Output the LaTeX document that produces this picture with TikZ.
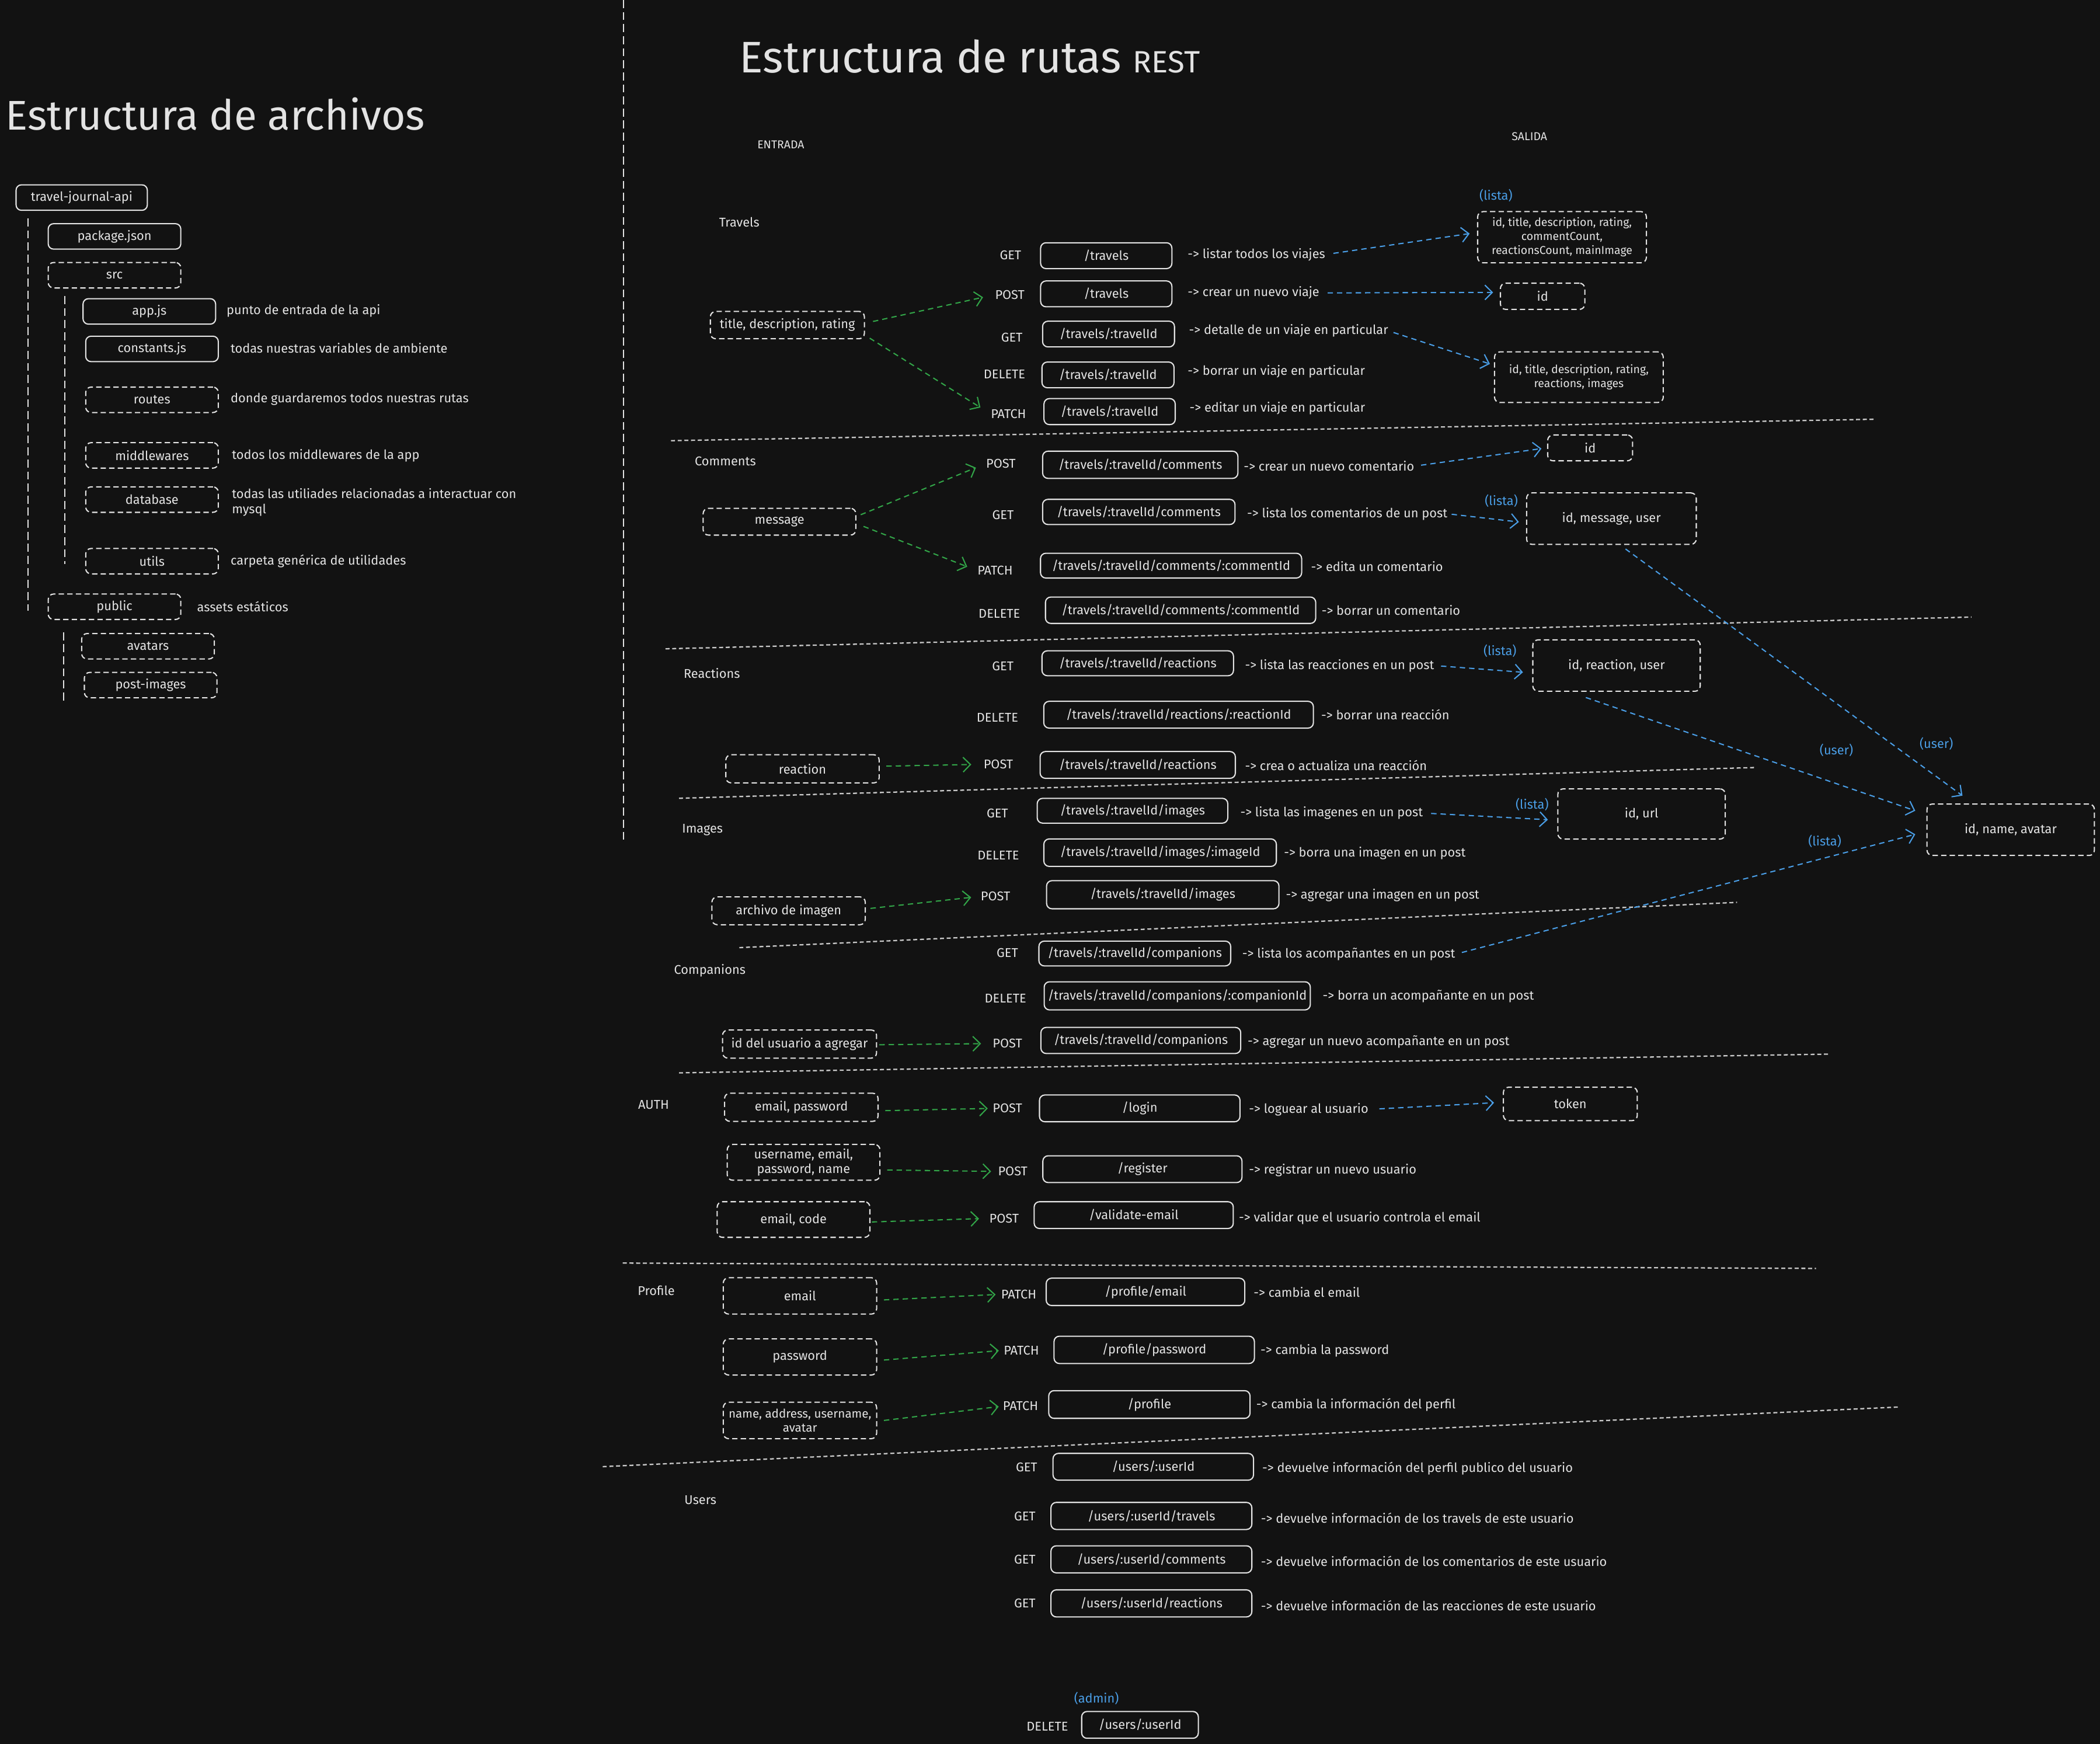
\documentclass[tikz,border=0pt]{standalone}
\usepackage{fontspec}
\setmainfont{Fira Sans}
\usetikzlibrary{arrows.meta,calc}
\definecolor{bgc}{HTML}{121212}
\definecolor{fgc}{HTML}{E3E3E3}
\definecolor{grc}{HTML}{32A548}
\definecolor{blc}{HTML}{4A9EE6}
\definecolor{sepc}{HTML}{C8C8C8}
\newcommand\fsm{\fontsize{9.5}{11}\selectfont}
\newcommand\fxs{\fontsize{8.5}{10.5}\selectfont}
\newcommand\fmid{\fontsize{9}{10.5}\selectfont}
\begin{document}
\begin{tikzpicture}[x=1pt,y=-1pt,
  txt/.style={text=fgc,font=\fsm,inner sep=0pt},
  lbl/.style={txt,anchor=west},
  mth/.style={txt},
  sec/.style={txt},
  bnote/.style={text=blc,font=\fsm,inner sep=0pt},
  ttl/.style={text=fgc,inner sep=0pt},
  sz/.style 2 args={minimum width=#1pt,minimum height=#2pt},
  sbox/.style={draw=fgc,line width=0.9pt,rounded corners=4pt,text=fgc,font=\fsm,inner sep=0pt,align=center},
  dbox/.style={sbox,dash pattern=on 4pt off 2.4pt},
  garr/.style={draw=grc,line width=0.9pt,dash pattern=on 4pt off 3pt,-{Straight Barb[length=5.5pt,width=11pt]}},
  barr/.style={draw=blc,line width=0.9pt,dash pattern=on 4pt off 3pt,-{Straight Barb[length=5.5pt,width=11pt]}},
  sepl/.style={draw=sepc,line width=1pt,dash pattern=on 3pt off 2pt},
  tree/.style={draw=fgc,line width=0.8pt,dash pattern=on 6pt off 3pt}
]
\fill[bgc] (0,0) rectangle (1568,1302);
\useasboundingbox (0,0) rectangle (1568,1302);

% ---------------- Left: file structure ----------------
\node[ttl,anchor=west,font=\fontsize{31}{33}\selectfont] (t1) at (4,85) {Estructura de archivos};
\draw[tree] (465.5,0) -- (465.5,628);

\node[sbox,sz={98}{19}] (tja) at (61,147.5) {travel-journal-api};
\node[sbox,sz={99}{19}] (pkg) at (85.5,176.5) {package.json};
\node[dbox,sz={99}{19}] (src) at (85.5,205.5) {src};
\node[sbox,sz={99}{19}] (app) at (111.5,232.5) {app.js};
\node[sbox,sz={99}{19}] (cst) at (113.5,260.5) {constants.js};
\node[dbox,sz={99}{19}] (rts) at (113.5,298.5) {routes};
\node[dbox,sz={99}{19}] (mdw) at (113.5,340) {middlewares};
\node[dbox,sz={99}{19}] (dbs) at (113.5,373) {database};
\node[dbox,sz={99}{19}] (utl) at (113.5,419) {utils};
\node[dbox,sz={99}{19}] (pub) at (85.5,453) {public};
\node[dbox,sz={99}{19}] (ava) at (110.5,482.5) {avatars};
\node[dbox,sz={99}{19}] (pim) at (112.5,511.5) {post-images};

\draw[tree] (20.8,163) -- (20.8,456);
\draw[tree] (48.3,221) -- (48.3,421);
\draw[tree] (47.4,472) -- (47.4,523);

\node[lbl] (la) at (169,232) {punto de entrada de la api};
\node[lbl] (lb) at (172,260) {todas nuestras variables de ambiente};
\node[lbl] (lc) at (172,298) {donde guardaremos todos nuestras rutas};
\node[lbl] (ld) at (173,340) {todos los middlewares de la app};
\node[lbl,align=left] (le) at (173,375) {todas las utiliades relacionadas a interactuar con\\mysql};
\node[lbl] (lf) at (172,419) {carpeta genérica de utilidades};
\node[lbl] (lg) at (147,453) {assets estáticos};

% ---------------- Right: REST routes ----------------
\node[ttl,anchor=west,font=\fontsize{33}{35}\selectfont] (t2) at (552,42) {Estructura de rutas {\fontsize{23}{25}\selectfont REST}};
\node[sec,font=\fxs] (ent) at (583,108) {ENTRADA};
\node[sec,font=\fxs] (sal) at (1142,102) {SALIDA};

\node[sec] (s1) at (552,166) {Travels};
\node[sec] (s2) at (541.6,344.3) {Comments};
\node[sec] (s3) at (531.5,502.7) {Reactions};
\node[sec] (s4) at (524.5,619.5) {Images};
\node[sec] (s5) at (530,724.6) {Companions};
\node[sec] (s6) at (488,825) {AUTH};
\node[sec] (s7) at (490,963.4) {Profile};
\node[sec] (s8) at (523,1120) {Users};

% separators
\draw[sepl] (501,329) -- (1400,313);
\draw[sepl] (496.9,484.4) -- (1472,460.7);
\draw[sepl] (507,596) -- (1311,573);
\draw[sepl] (552,707.5) -- (1297,673.7);
\draw[sepl] (507,801) -- (1366,787);
\draw[sepl] (465,943) -- (1356,947);
\draw[sepl] (450,1095) -- (1417,1050.5);

% methods
\node[mth] (m1) at (754.5,190.4) {GET};
\node[mth] (m2) at (754,220) {POST};
\node[mth] (m3) at (755.5,252) {GET};
\node[mth] (m4) at (750,279.3) {DELETE};
\node[mth] (m5) at (753,309) {PATCH};
\node[mth] (m6) at (747.3,346.1) {POST};
\node[mth] (m7) at (748.9,384.3) {GET};
\node[mth] (m8) at (743,426) {PATCH};
\node[mth] (m9) at (746.2,458) {DELETE};
\node[mth] (m10) at (748.8,497.4) {GET};
\node[mth] (m11) at (744.7,535.8) {DELETE};
\node[mth] (m12) at (745.4,570.6) {POST};
\node[mth] (m13) at (744.7,607.3) {GET};
\node[mth] (m14) at (745.4,638.4) {DELETE};
\node[mth] (m15) at (743.3,669.2) {POST};
\node[mth] (m16) at (752.2,711.6) {GET};
\node[mth] (m17) at (750.7,745.4) {DELETE};
\node[mth] (m18) at (752.2,779.1) {POST};
\node[mth] (m19) at (752.2,827.5) {POST};
\node[mth] (m20) at (756.2,874.6) {POST};
\node[mth] (m21) at (749.7,909.6) {POST};
\node[mth] (m22) at (760.7,966.3) {PATCH};
\node[mth] (m23) at (762.6,1008.1) {PATCH};
\node[mth] (m24) at (762,1049.8) {PATCH};
\node[mth] (m25) at (766.5,1095.3) {GET};
\node[mth] (m26) at (765.2,1132.2) {GET};
\node[mth] (m27) at (765.2,1164.3) {GET};
\node[mth] (m28) at (765.2,1197.1) {GET};
\node[mth] (m29) at (782,1289) {DELETE};

% routes
\node[sbox,sz={98}{19.3}] (r1) at (826,190.9) {/travels};
\node[sbox,sz={98}{19.3}] (r2) at (826,219.4) {/travels};
\node[sbox,sz={98.5}{19.2}] (r3) at (827.7,249.4) {/travels/:travelId};
\node[sbox,sz={98.6}{19.2}] (r4) at (827.3,279.9) {/travels/:travelId};
\node[sbox,sz={98}{19.4}] (r5) at (828.5,307.3) {/travels/:travelId};
\node[sbox,sz={145.8}{20.3}] (r6) at (851.4,347) {/travels/:travelId/comments};
\node[sbox,sz={143.7}{18.8}] (r7) at (850.3,382.2) {/travels/:travelId/comments};
\node[sbox,sz={195}{18.5}] (r8) at (874.4,422.3) {/travels/:travelId/comments/:commentId};
\node[sbox,sz={201.8}{19.7}] (r9) at (881.5,455.6) {/travels/:travelId/comments/:commentId};
\node[sbox,sz={143}{18.6}] (r10) at (849.5,495.2) {/travels/:travelId/reactions};
\node[sbox,sz={201.3}{20}] (r11) at (880,533.6) {/travels/:travelId/reactions/:reactionId};
\node[sbox,sz={145.8}{20}] (r12) at (849.5,571.1) {/travels/:travelId/reactions};
\node[sbox,sz={142.3}{18.5}] (r13) at (845.6,605.3) {/travels/:travelId/images};
\node[sbox,sz={173.6}{20.5}] (r14) at (866.2,636.6) {/travels/:travelId/images/:imageId};
\node[sbox,sz={173.5}{21}] (r15) at (868.2,668) {/travels/:travelId/images};
\node[sbox,sz={143.2}{18.5}] (r16) at (847.3,711.9) {/travels/:travelId/companions};
\node[sbox,sz={198.7}{21}] (r17) at (879,743.5) {/travels/:travelId/companions/:companionId};
\node[sbox,sz={149.2}{19.5}] (r18) at (851.8,776.8) {/travels/:travelId/companions};
\node[sbox,sz={149.7}{20}] (r19) at (851,827.5) {/login};
\node[sbox,sz={148.7}{20}] (r20) at (853,872.9) {/register};
\node[sbox,sz={148.7}{20}] (r21) at (846.5,907.2) {/validate-email};
\node[sbox,sz={148.3}{20.4}] (r22) at (855.3,964.5) {/profile/email};
\node[sbox,sz={149.6}{20.4}] (r23) at (861.8,1007.8) {/profile/password};
\node[sbox,sz={150.3}{20.7}] (r24) at (858.2,1048.6) {/profile};
\node[sbox,sz={149.7}{20}] (r25) at (861.1,1095.1) {/users/:userId};
\node[sbox,sz={150}{20.2}] (r26) at (859.7,1131.8) {/users/:userId/travels};
\node[sbox,sz={150}{20.2}] (r27) at (859.7,1164.2) {/users/:userId/comments};
\node[sbox,sz={150}{20.2}] (r28) at (859.7,1197.1) {/users/:userId/reactions};
\node[sbox,sz={87.1}{20}] (r29) at (851.2,1287.8) {/users/:userId};

% descriptions
\node[lbl] (d1) at (886.6,190) {-> listar todos los viajes};
\node[lbl] (d2) at (886.6,218.7) {-> crear un nuevo viaje};
\node[lbl] (d3) at (887.6,247) {-> detalle de un viaje en particular};
\node[lbl] (d4) at (886.6,277.3) {-> borrar un viaje en particular};
\node[lbl] (d5) at (888,305) {-> editar un viaje en particular};
\node[lbl] (d6) at (928.5,348) {-> crear un nuevo comentario};
\node[lbl] (d7) at (931,383.6) {-> lista los comentarios de un post};
\node[lbl] (d8) at (978.7,423.1) {-> edita un comentario};
\node[lbl] (d9) at (986.6,455.5) {-> borrar un comentario};
\node[lbl] (d10) at (929.4,496.9) {-> lista las reacciones en un post};
\node[lbl] (d11) at (986.3,533.6) {-> borrar una reacción};
\node[lbl] (d12) at (929.4,571.6) {-> crea o actualiza una reacción};
\node[lbl] (d13) at (925.9,607) {-> lista las imagenes en un post};
\node[lbl] (d14) at (958.5,637) {-> borra una imagen en un post};
\node[lbl] (d15) at (959.9,668.2) {-> agregar una imagen en un post};
\node[lbl] (d16) at (927.4,712.4) {-> lista los acompañantes en un post};
\node[lbl] (d17) at (987.4,743.8) {-> borra un acompañante en un post};
\node[lbl] (d18) at (931.4,777.8) {-> agregar un nuevo acompañante en un post};
\node[lbl] (d19) at (932.4,828.3) {-> loguear al usuario};
\node[lbl] (d20) at (932.4,873.9) {-> registrar un nuevo usuario};
\node[lbl] (d21) at (924.9,909.6) {-> validar que el usuario controla el email};
\node[lbl] (d22) at (935.9,964.8) {-> cambia el email};
\node[lbl] (d23) at (941,1008.4) {-> cambia la password};
\node[lbl] (d24) at (937.8,1048.8) {-> cambia la información del perfil};
\node[lbl] (d25) at (942.3,1096.3) {-> devuelve información del perfil publico del usuario};
\node[lbl] (d26) at (941.3,1133.2) {-> devuelve información de los travels de este usuario};
\node[lbl] (d27) at (941.3,1165.8) {-> devuelve información de los comentarios de este usuario};
\node[lbl] (d28) at (941.3,1198.6) {-> devuelve información de las reacciones de este usuario};

% inputs
\node[dbox,sz={115}{20.4}] (in1) at (587.9,242.7) {title, description, rating};
\node[dbox,sz={114}{20}] (in2) at (582,389.5) {message};
\node[dbox,sz={114.5}{21}] (in3) at (599.2,574) {reaction};
\node[dbox,sz={114.5}{20.8}] (in4) at (588.8,680) {archivo de imagen};
\node[dbox,sz={115}{21}] (in5) at (597,779.5) {id del usuario a agregar};
\node[dbox,sz={114.6}{21}] (in6) at (598.3,826.7) {email, password};
\node[dbox,sz={114}{26.7}] (in7) at (600,867.8) {username, email,\\password, name};
\node[dbox,sz={114}{26.6}] (in8) at (592.5,910.5) {email, code};
\node[dbox,sz={114.5}{27.2}] (in9) at (597.3,967.5) {email};
\node[dbox,sz={114.5}{27}] (in10) at (597.3,1013.1) {password};
\node[dbox,sz={114.5}{27.2},font=\fmid] (in11) at (597.3,1060.5) {name, address, username,\\avatar};

% outputs
\node[dbox,sz={126}{38.2},font=\fxs] (out1) at (1166.3,177.1) {id, title, description, rating,\\commentCount,\\reactionsCount, mainImage};
\node[dbox,sz={63}{19.6}] (out2) at (1151.8,221.2) {id};
\node[dbox,sz={126}{37.8},font=\fxs] (out3) at (1178.9,281.6) {id, title, description, rating,\\reactions, images};
\node[dbox,sz={63.4}{19.3}] (out4) at (1187.3,334.4) {id};
\node[dbox,sz={126.7}{38.4}] (out5) at (1203.2,387.2) {id, message, user};
\node[dbox,sz={125}{38.4}] (out6) at (1207,496.9) {id, reaction, user};
\node[dbox,sz={125}{37.5}] (out7) at (1225.7,607.7) {id, url};
\node[dbox,sz={125}{38.4}] (out8) at (1501.3,619.5) {id, name, avatar};
\node[dbox,sz={100}{25}] (out9) at (1172.5,824.2) {token};

% blue notes
\node[bnote] (n1) at (1117,146) {(lista)};
\node[bnote] (n2) at (1121,374.1) {(lista)};
\node[bnote] (n3) at (1120,486) {(lista)};
\node[bnote] (n4) at (1144,600.8) {(lista)};
\node[bnote] (n5) at (1362.5,627.9) {(lista)};
\node[bnote] (n6) at (1445.8,555.3) {(user)};
\node[bnote] (n7) at (1371.2,560.3) {(user)};
\node[bnote] (n8) at (818.7,1268) {(admin)};

% green arrows (inputs -> methods)
\draw[garr,shorten >=9pt] ($(in1.east)+(6,-2.7)$) -- (m2.west);
\draw[garr,shorten >=9pt] ($(in1.south east)+(3.5,-0.9)$) -- (m5.west);
\draw[garr,shorten >=8pt] ($(in2.east)+(3.2,-5.2)$) -- (m6.west);
\draw[garr,shorten >=8pt] ($(in2.east)+(5.3,3.5)$) -- (m8.west);
\draw[garr,shorten >=9pt] ($(in3.east)+(4.9,-2)$) -- (m12.west);
\draw[garr,shorten >=7pt] ($(in4.east)+(3.5,-1.8)$) -- (m15.west);
\draw[garr,shorten >=8.5pt] ($(in5.east)+(1.6,0.5)$) -- (m18.west);
\draw[garr,shorten >=3.5pt] ($(in6.east)+(5,2.5)$) -- (m19.west);
\draw[garr,shorten >=5pt] ($(in7.east)+(5,5.7)$) -- (m20.west);
\draw[garr,shorten >=7.5pt] ($(in8.east)+(1,1.8)$) -- (m21.west);
\draw[garr,shorten >=4pt] ($(in9.east)+(5,3)$) -- (m22.west);
\draw[garr,shorten >=3.5pt] ($(in10.east)+(5,2.3)$) -- (m23.west);
\draw[garr,shorten >=3pt] ($(in11.east)+(5,0)$) -- (m24.west);

% blue arrows (descriptions -> outputs)
\draw[barr,shorten <=6pt] (d1.east) -- ($(out1.west)+(-5.5,-2.7)$);
\draw[barr,shorten <=6pt] (d2.east) -- ($(out2.west)+(-5,-2.9)$);
\draw[barr,shorten <=4pt] (d3.east) -- ($(out3.west)+(-3,-9.9)$);
\draw[barr,shorten <=5pt] (d6.east) -- ($(out4.west)+(-4.2,0.5)$);
\draw[barr,shorten <=3pt] (d7.east) -- ($(out5.west)+(-5.3,2.5)$);
\draw[barr,shorten <=5pt] (d10.east) -- ($(out6.west)+(-6.9,5)$);
\draw[barr,shorten <=6pt] (d13.east) -- ($(out7.west)+(-7,4.3)$);
\draw[barr,shorten <=8pt] (d19.east) -- ($(out9.west)+(-6.5,-0.9)$);
\draw[barr] ($(out5.south)+(10.5,3)$) -- ($(out8.north)+(-36,-5.8)$);
\draw[barr] ($(out6.south)+(-22.9,4.2)$) -- ($(out8.west)+(-8.3,-14.2)$);
\draw[barr,shorten <=5pt] (d16.east) -- ($(out8.west)+(-8.3,3.4)$);
\end{tikzpicture}
\end{document}
